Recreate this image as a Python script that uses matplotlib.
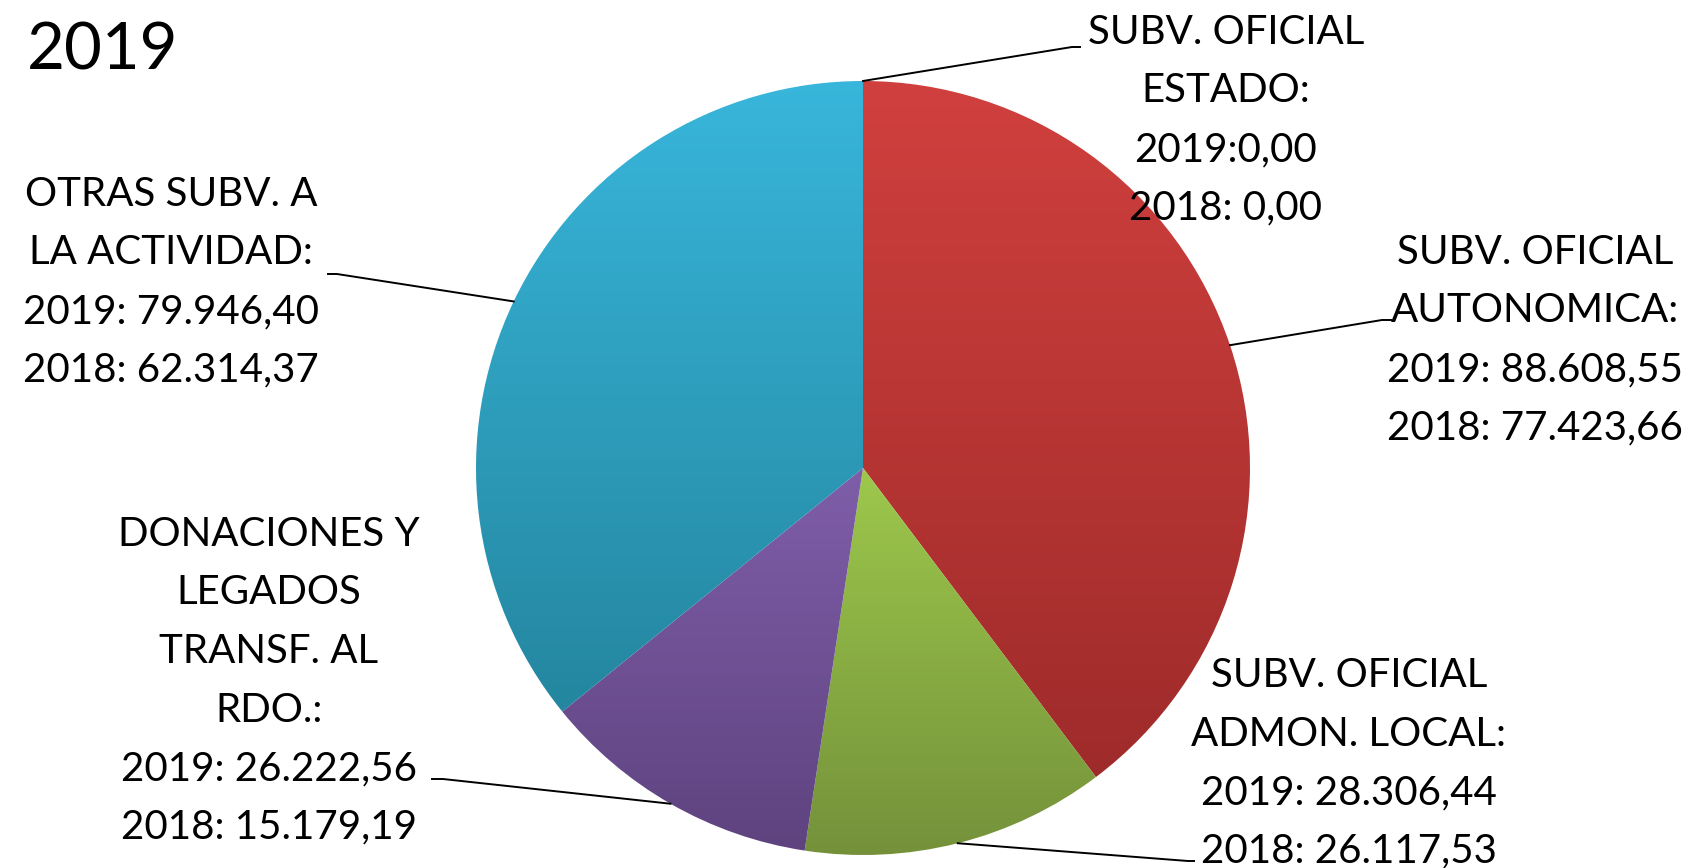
import numpy as np
import matplotlib
matplotlib.use("Agg")
from matplotlib import pyplot as plt
from matplotlib.colors import LinearSegmentedColormap

W, H = 1706, 868

names = ["SUBV. OFICIAL\nESTADO:",
         "SUBV. OFICIAL\nAUTONOMICA:",
         "SUBV. OFICIAL\nADMON. LOCAL:",
         "DONACIONES Y\nLEGADOS\nTRANSF. AL\nRDO.:",
         "OTRAS SUBV. A\nLA ACTIVIDAD:"]
v2019 = [0.00, 88608.55, 28306.44, 26222.56, 79946.40]
v2018 = [0.00, 77423.66, 26117.53, 15179.19, 62314.37]
seps = ["", " ", " ", " ", " "]

top_colors = ["#D9534F", "#D0403E", "#9DC84C", "#7F5EA9", "#38B6DB"]
bot_colors = ["#A52D2B", "#9E2B2A", "#74913A", "#5E437F", "#24869F"]


def fmt(v):
    s = f"{v:,.2f}"
    return s.replace(",", "X").replace(".", ",").replace("X", ".")


plt.rcParams['font.family'] = ['Lato', 'DejaVu Sans']

fig = plt.figure(figsize=(W / 100, H / 100), dpi=100)
ax = fig.add_axes([0, 0, 1, 1])

cx, cy, r = 863, H - 468, 387
wedges, _ = ax.pie(v2019, center=(cx, cy), radius=r, startangle=90,
                   counterclock=False, frame=True)
ax.set_xlim(0, W)
ax.set_ylim(0, H)
ax.set_aspect("equal")
ax.axis("off")

# vertical gradient inside each slice
grad = np.linspace(1, 0, 256).reshape(-1, 1)
for w, c1, c2 in zip(wedges, top_colors, bot_colors):
    if w.theta2 - w.theta1 < 1e-6:
        w.set_visible(False)
        continue
    verts = w.get_path().vertices
    x0, x1 = verts[:, 0].min(), verts[:, 0].max()
    y0, y1 = verts[:, 1].min(), verts[:, 1].max()
    cmap = LinearSegmentedColormap.from_list("g", [c2, c1])
    im = ax.imshow(grad, cmap=cmap, extent=(x0, x1, y0, y1), origin="upper",
                   aspect="auto", zorder=1)
    im.set_clip_path(w)
    w.set_facecolor("none")
    w.set_edgecolor("none")

# labels: center x, baseline of first line (pixels from top)
label_pos = [(1226, 44), (1535, 264), (1349, 687), (269, 546), (171, 206)]
step = 58.5
# leader line: text-side anchor points (pixels from top)
leader_pts = [[(1072, 47), (1080, 47)],
              [(1382, 320), (1391, 320)],
              [(1188, 861), (1194, 861)],
              [(443, 779), (432, 779)],
              [(337, 274), (328, 274)]]

for i, w in enumerate(wedges):
    lines = names[i].split("\n") + [f"2019:{seps[i]}{fmt(v2019[i])}",
                                     f"2018: {fmt(v2018[i])}"]
    x, y = label_pos[i]
    for k, ln in enumerate(lines):
        ax.text(x, H - (y + k * step), ln, ha="center", va="baseline",
                fontsize=29, color="black", zorder=5)
    mid = np.deg2rad((w.theta1 + w.theta2) / 2)
    ex, ey = cx + r * np.cos(mid), cy + r * np.sin(mid)
    px = [ex] + [p[0] for p in leader_pts[i]]
    py = [ey] + [H - p[1] for p in leader_pts[i]]
    ax.plot(px, py, color="black", lw=1.4, zorder=4)

ax.text(27, H - 70, "2019", ha="left", va="baseline", fontsize=47, color="black")

fig.savefig("out.png", dpi=100)
